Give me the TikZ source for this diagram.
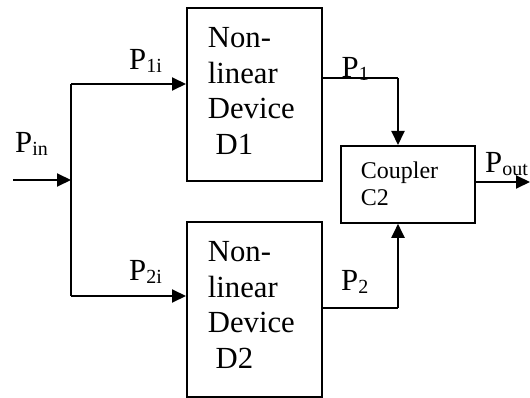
\documentclass[tikz,border=0pt]{standalone}
\usepackage{fontspec}
\setmainfont{Liberation Serif}
\usetikzlibrary{arrows.meta}
\newcommand\lsub[1]{\raisebox{-3pt}{\fontsize{20}{20}\selectfont #1}}
\tikzset{
  box/.style={draw, line width=1.8pt, inner sep=0pt, anchor=north west},
  boxtext/.style={inner sep=0pt, anchor=north west, align=left, font=\fontsize{30.7}{35.5}\selectfont},
  cpltext/.style={inner sep=0pt, anchor=north west, align=left, font=\fontsize{24}{27}\selectfont},
  lbl/.style={inner sep=0pt, anchor=base west, font=\fontsize{30.7}{35}\selectfont},
  wire/.style={line width=2pt},
  arr/.style={wire, -{Triangle[length=14pt,width=13pt]}}
}
\begin{document}
\begin{tikzpicture}[x=1pt,y=-1pt]
\path[use as bounding box] (0,0) rectangle (530,398);
% boxes
\node[box, minimum width=135pt, minimum height=173pt] (d1) at (186,7) {};
\node[box, minimum width=135pt, minimum height=175pt] (d2) at (186,221) {};
\node[box, minimum width=134pt, minimum height=77pt] (c2) at (340,145) {};
% box texts
\node[boxtext] (t1) at (207.7,27.2) {Non-\\linear\\Device\\\hspace*{7.7pt}D1};
\node[boxtext] (t2) at (207.7,241.2) {Non-\\linear\\Device\\\hspace*{7.7pt}D2};
\node[cpltext] (tc) at (360.7,161.5) {Coupler\\C2};
% coordinates
\coordinate (src) at (13,180);
\coordinate (split) at (71,180);
\coordinate (jt) at (71,84);
\coordinate (jb) at (71,296);
\coordinate (k1) at (398,78);
\coordinate (k2) at (398,308);
\coordinate (out) at (530,182);
% connectors
\draw[arr] (src) -- (split);
\draw[wire] (jt) -- (jb);
\draw[arr] (jt) -- (jt -| d1.west);
\draw[arr] (jb) -- (jb -| d2.west);
\draw[wire] (k1 -| d1.east) -- (k1);
\draw[arr] (k1) -- (k1 |- c2.north);
\draw[wire] (k2 -| d2.east) -- (k2);
\draw[arr] (k2) -- (k2 |- c2.south);
\draw[arr] (out -| c2.east) -- (out);
% labels
\node[lbl] (lin) at (15,153) {P\lsub{in}};
\node[lbl] (l1i) at (129,70) {P\lsub{1i}};
\node[lbl] (l2i) at (129,280) {P\lsub{2i}};
\node[lbl] (l1) at (341.5,77.7) {P\lsub{1}};
\node[lbl] (l2) at (341,290) {P\lsub{2}};
\node[lbl] (lout) at (485,173) {P\lsub{out}};
\end{tikzpicture}
\end{document}
